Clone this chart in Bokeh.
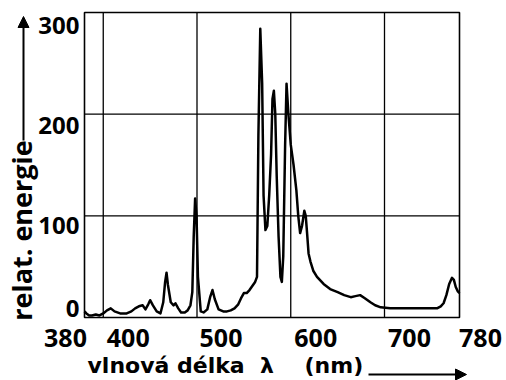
from bokeh.plotting import figure
from bokeh.models import Range1d, LabelSet, Label, Arrow, NormalHead, ColumnDataSource
from bokeh.core.properties import value
from bokeh.embed import file_html
from bokeh.resources import INLINE

# ---- data ----
wavelength = [380, 382, 385, 388, 392, 396, 400, 404, 408, 412, 418, 425, 430, 434, 438, 442,
              445, 448, 450, 453, 457, 461, 464, 466, 467.5, 469, 472, 475, 477, 480, 483, 487,
              490, 493, 495, 496.5, 498, 499.5, 501, 504, 507, 511, 514, 516.5, 519, 523, 528,
              532, 536, 540, 544, 547, 550, 553, 556, 559, 562, 564, 565.5, 567.5, 569.5, 571,
              573, 575, 577, 579, 580.5, 582, 583.5, 585, 587, 589, 590.5, 592, 594, 595.5,
              597.5, 600, 603, 606, 608, 610, 612, 614.5, 616, 617.5, 619, 621, 624, 628, 635,
              642, 650, 657, 664, 669, 674, 679, 685, 690, 696, 706, 720, 735, 745, 756, 760,
              763, 766, 769, 772, 774, 776, 778, 780]
energy = [6, 4, 2, 2, 3, 2, 4, 7, 9, 6, 4, 4, 6, 9, 11, 12,
          8, 13, 17, 12, 6, 4, 15, 35, 44, 32, 15, 12, 14, 9, 5, 5,
          7, 12, 25, 80, 117, 100, 40, 6, 5, 8, 20, 27, 18, 8, 6,
          6, 7, 9, 13, 19, 24, 24, 27, 31, 35, 40, 180, 284, 230, 120,
          86, 90, 120, 160, 215, 223, 200, 140, 80, 40, 35, 60, 170, 230,
          200, 170, 150, 125, 100, 83, 90, 105, 100, 82, 63, 55, 46, 40, 33,
          28, 25, 22, 20, 21, 22, 19, 15, 12, 10, 9, 9, 9, 9, 9, 11,
          14, 22, 33, 39, 37, 30, 26, 24]

x_tick_values = [380, 400, 500, 600, 700, 780]
x_tick_labels = ["380", "400", "500", "600", "700", "780"]
y_tick_values = [0, 100, 200, 300]
y_tick_labels = ["0", "100", "200", "300"]
x_grid_values = [400, 500, 600, 700]
y_grid_values = [100, 200]

x_title = "vlnová délka\u00a0 λ\u00a0\u00a0\u00a0 (nm)"
y_title = "relat. energie"

# ---- styling / layout ----
FONT = "Open Sans"
TITLE_FONT = "DejaVu Sans"
x_label_dx = [-19, 25, 24, 25, 25, 21]
y_label_dy = [9, -10, -11, -13]

W, H = 506, 380
X0, X1, Y0, Y1 = 380, 780, 0, 300
BOX_LEFT, BOX_RIGHT, BOX_TOP, BOX_BOTTOM = 84, 459, 12, 317   # chart box in canvas px
KX = (X1 - X0) / (BOX_RIGHT - BOX_LEFT)
KY = (Y1 - Y0) / (BOX_BOTTOM - BOX_TOP)

p = figure(width=W, height=H, output_backend="svg", toolbar_location=None,
           x_range=Range1d(X0 - BOX_LEFT * KX, X1 + (W - BOX_RIGHT) * KX),
           y_range=Range1d(Y0 - (H - BOX_BOTTOM) * KY, Y1 + BOX_TOP * KY),
           min_border=0)
p.axis.visible = False
p.grid.visible = False
p.outline_line_color = None
p.background_fill_color = "white"
p.border_fill_color = "white"

# grid lines and box
p.segment(x0=x_grid_values, y0=[Y0] * len(x_grid_values),
          x1=x_grid_values, y1=[Y1] * len(x_grid_values),
          line_color="black", line_width=1.3)
p.segment(x0=[X0] * len(y_grid_values), y0=y_grid_values,
          x1=[X1] * len(y_grid_values), y1=y_grid_values,
          line_color="black", line_width=1.3)
p.quad(left=[X0], right=[X1], bottom=[Y0], top=[Y1],
       fill_color=None, line_color="black", line_width=1.6)

p.line(wavelength, energy, line_color="black", line_width=2.5, line_join="round")

xsrc = ColumnDataSource(dict(x=x_tick_values, y=[Y0] * len(x_tick_values),
                             text=x_tick_labels, dx=x_label_dx))
p.add_layout(LabelSet(x="x", y="y", text="text", source=xsrc, x_offset="dx", y_offset=-29,
                      text_align="center", text_baseline="alphabetic",
                      text_font=value(FONT), text_font_style="bold",
                      text_font_size="25px", text_color="black"))

ysrc = ColumnDataSource(dict(x=[X0] * len(y_tick_values), y=y_tick_values,
                             text=y_tick_labels, dy=y_label_dy))
p.add_layout(LabelSet(x="x", y="y", text="text", source=ysrc, x_offset=-5, y_offset="dy",
                      text_align="right", text_baseline="middle",
                      text_font=value(FONT), text_font_style="bold",
                      text_font_size="24px", text_color="black"))

p.add_layout(Label(x=X0, y=Y0, x_offset=3, y_offset=-48, text=x_title,
                   text_align="left", text_baseline="middle",
                   text_font=TITLE_FONT, text_font_style="bold", text_font_size="22px",
                   text_color="black"))
p.add_layout(Label(x=X0, y=Y0, x_offset=-63, y_offset=87, text=y_title,
                   angle=90, angle_units="deg",
                   text_align="center", text_baseline="middle",
                   text_font=FONT, text_font_style="bold", text_font_size="27px",
                   text_color="black"))

p.add_layout(Arrow(x_start=X0 + 284 * KX, y_start=Y0 - 57 * KY,
                   x_end=X0 + 382 * KX, y_end=Y0 - 57 * KY,
                   line_color="black", line_width=2,
                   end=NormalHead(size=11, fill_color="black", line_color="black")))
p.add_layout(Arrow(x_start=X0 - 61 * KX, y_start=Y0 + 177 * KY,
                   x_end=X0 - 61 * KX, y_end=Y0 + 301 * KY,
                   line_color="black", line_width=2,
                   end=NormalHead(size=11, fill_color="black", line_color="black")))

open("out.html", "w").write(file_html(p, INLINE))
